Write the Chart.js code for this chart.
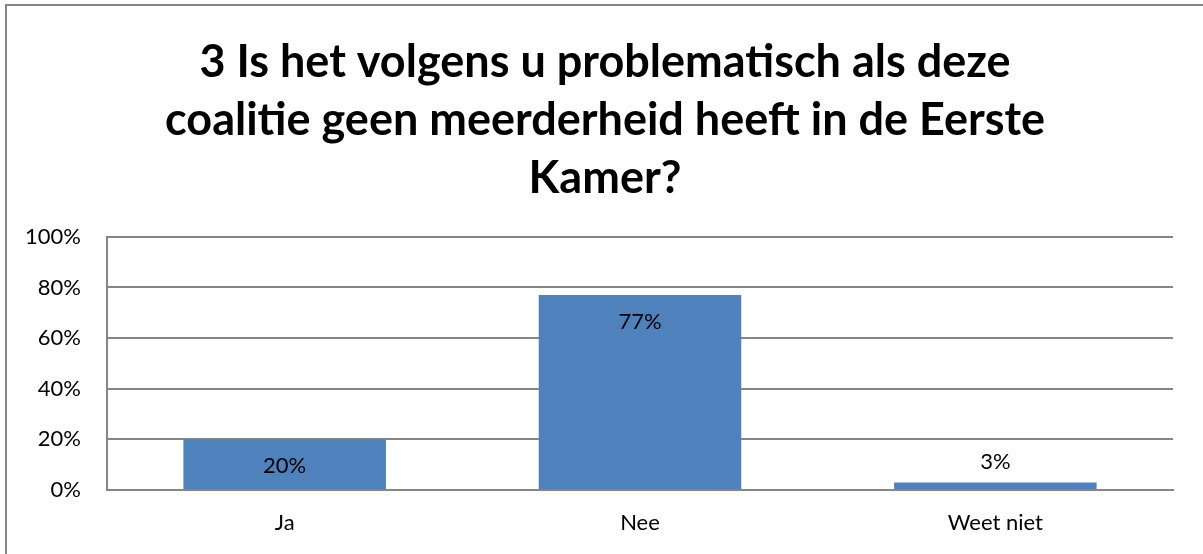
<!DOCTYPE html>
<html>
<head>
<meta charset="utf-8">
<script src="https://cdn.jsdelivr.net/npm/chart.js@4.4.1/dist/chart.umd.min.js"></script>
<style>
  html, body { margin: 0; padding: 0; background: #fff; overflow: hidden; }
  #wrap { position: relative; width: 1203px; height: 554px; }
  #frame { position: absolute; left: 5px; top: 4px; width: 1300px; height: 700px; border-left: 2px solid #868686; border-top: 2px solid #868686; box-sizing: border-box; pointer-events: none; }
  canvas { position: absolute; left: 0; top: 0; }
</style>
</head>
<body>
<div id="wrap">
  <canvas id="c" width="1203" height="554"></canvas>
  <div id="frame"></div>
</div>
<script>
const categories = ["Ja", "Nee", "Weet niet"];
const values = [20, 77, 3];
const valueLabels = ["20%", "77%", "3%"];
const titleLines = ["3 Is het volgens u problematisch als deze", "coalitie geen meerderheid heeft in de Eerste", "Kamer?"];

const FONT = "Lato, 'Open Sans', 'Liberation Sans', sans-serif";

const labelPlugin = {
  id: 'valueLabels',
  afterDatasetsDraw(chart) {
    const ctx = chart.ctx;
    const meta = chart.getDatasetMeta(0);
    const y = chart.scales.y;
    ctx.save();
    ctx.font = "22px " + FONT;
    ctx.fillStyle = "#000";
    ctx.textAlign = "center";
    ctx.textBaseline = "middle";
    meta.data.forEach((bar, i) => {
      const top = y.getPixelForValue(values[i]);
      const base = y.getPixelForValue(0);
      const ly = (base - top) > 45 ? top + 27 : top - 20;
      ctx.fillText(valueLabels[i], bar.x, ly);
    });
    ctx.restore();
  }
};

new Chart(document.getElementById('c'), {
  type: 'bar',
  data: {
    labels: categories,
    datasets: [{
      data: values,
      backgroundColor: '#4F81BD',
      borderWidth: 0,
      categoryPercentage: 1,
      barPercentage: 0.57
    }]
  },
  options: {
    responsive: false,
    animation: false,
    devicePixelRatio: 1,
    layout: { padding: { left: 7, right: 0, top: 0, bottom: 0 } },
    plugins: {
      legend: { display: false },
      tooltip: { enabled: false },
      title: {
        display: true,
        text: titleLines,
        color: '#000',
        font: { family: FONT, size: 45, weight: 'bold', lineHeight: 1.28 },
        padding: { top: 34, bottom: 30 }
      }
    },
    scales: {
      x: {
        grid: { display: false, drawTicks: false },
        border: { display: true, color: '#868686', width: 2 },
        ticks: { color: '#000', font: { family: FONT, size: 22 }, padding: 20 },
        afterFit(scale) { scale.height = 64; }
      },
      y: {
        min: 0, max: 100,
        ticks: { stepSize: 20, color: '#000', font: { family: FONT, size: 22 }, padding: 26,
                 callback: v => v + '%' },
        grid: { color: '#868686', lineWidth: 2, drawTicks: false },
        border: { display: true, color: '#868686', width: 2 },
        afterFit(scale) { scale.width = 100; }
      },
      yRight: {
        position: 'right',
        min: 0, max: 100,
        ticks: { display: false },
        grid: { display: false, drawTicks: false },
        border: { display: false },
        afterFit(scale) { scale.width = 30; }
      }
    }
  },
  plugins: [labelPlugin]
});
</script>
</body>
</html>
